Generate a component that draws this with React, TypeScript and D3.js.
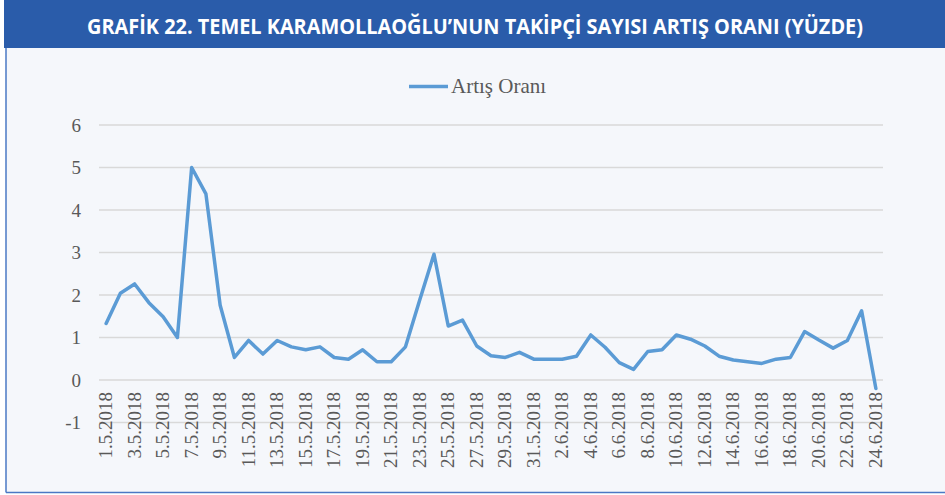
import React from "react";
import * as d3 from "d3";

const dates: string[] = [
  "1.5.2018","2.5.2018","3.5.2018","4.5.2018","5.5.2018","6.5.2018","7.5.2018","8.5.2018","9.5.2018","10.5.2018",
  "11.5.2018","12.5.2018","13.5.2018","14.5.2018","15.5.2018","16.5.2018","17.5.2018","18.5.2018","19.5.2018","20.5.2018",
  "21.5.2018","22.5.2018","23.5.2018","24.5.2018","25.5.2018","26.5.2018","27.5.2018","28.5.2018","29.5.2018","30.5.2018",
  "31.5.2018","1.6.2018","2.6.2018","3.6.2018","4.6.2018","5.6.2018","6.6.2018","7.6.2018","8.6.2018","9.6.2018",
  "10.6.2018","11.6.2018","12.6.2018","13.6.2018","14.6.2018","15.6.2018","16.6.2018","17.6.2018","18.6.2018","19.6.2018",
  "20.6.2018","21.6.2018","22.6.2018","23.6.2018","24.6.2018"
];

const artisOrani: number[] = [
  1.33, 2.04, 2.26, 1.82, 1.49, 1.0, 5.0, 4.38, 1.76, 0.53,
  0.93, 0.61, 0.93, 0.78, 0.71, 0.78, 0.53, 0.49, 0.71, 0.43,
  0.43, 0.78, 1.88, 2.96, 1.27, 1.41, 0.8, 0.57, 0.53, 0.65,
  0.49, 0.49, 0.49, 0.56, 1.06, 0.77, 0.41, 0.25, 0.67, 0.71,
  1.06, 0.96, 0.8, 0.56, 0.47, 0.43, 0.39, 0.49, 0.53, 1.14,
  0.94, 0.75, 0.93, 1.63, -0.2
];

const yTicks: number[] = [-1, 0, 1, 2, 3, 4, 5, 6];

const title = "GRAFİK 22. TEMEL KARAMOLLAOĞLU’NUN TAKİPÇİ SAYISI ARTIŞ ORANI (YÜZDE)";
const legendLabel = "Artış Oranı";

export default function App() {
  const W = 945, H = 495;
  const x = d3.scalePoint<string>().domain(dates).range([99, 883]).padding(0.5);
  const y = d3.scaleLinear().domain([-1, 6]).range([422.5, 125]);
  const line = d3.line<number>().x((_, i) => x(dates[i]) as number).y((d) => y(d));
  const serif = "'Liberation Serif', 'Times New Roman', serif";
  const textColor = "#595959";

  return (
    <svg width={W} height={H} style={{ position: "absolute", left: 0, top: 0 }}>
      <rect x={0} y={0} width={W} height={H} fill="#ffffff" />
      <rect x={6} y={48} width={W - 6} height={444} fill="#f5f7fb" />
      <rect x={4} y={0} width={W - 4} height={48} fill="#2a5caa" />
      <line x1={6} y1={48} x2={6} y2={492.5} stroke="#4a78c4" strokeWidth={1.5} />
      <line x1={6} y1={492.5} x2={W} y2={492.5} stroke="#4a78c4" strokeWidth={1.5} />
      <text
        x={475}
        y={34}
        textAnchor="middle"
        fill="#ffffff"
        fontFamily="'Open Sans', 'Noto Sans', sans-serif"
        fontWeight={700}
        fontSize={22}
        textLength={776}
        lengthAdjust="spacingAndGlyphs"
      >
        {title}
      </text>

      {/* legend */}
      <line x1={409} y1={86.5} x2={448} y2={86.5} stroke="#5b9bd5" strokeWidth={3.5} />
      <text x={451} y={93} fill={textColor} fontFamily={serif} fontSize={21}>
        {legendLabel}
      </text>

      {/* gridlines & y labels */}
      {yTicks.map((t) => (
        <g key={t}>
          <line x1={99} x2={883} y1={y(t)} y2={y(t)} stroke="#d9d9d9" strokeWidth={1.5} />
          <text x={81} y={y(t) + 6.5} textAnchor="end" fill={textColor} fontFamily={serif} fontSize={19}>
            {t}
          </text>
        </g>
      ))}

      {/* x labels */}
      {dates.map((d, i) =>
        i % 2 === 0 ? (
          <text
            key={d}
            transform={`translate(${(x(d) as number) + 6},${392}) rotate(-90)`}
            textAnchor="end"
            fill={textColor}
            fontFamily={serif}
            fontSize={19}
          >
            {d}
          </text>
        ) : null
      )}

      <path
        d={line(artisOrani) || ""}
        fill="none"
        stroke="#5b9bd5"
        strokeWidth={3.5}
        strokeLinejoin="round"
        strokeLinecap="round"
      />
    </svg>
  );
}
